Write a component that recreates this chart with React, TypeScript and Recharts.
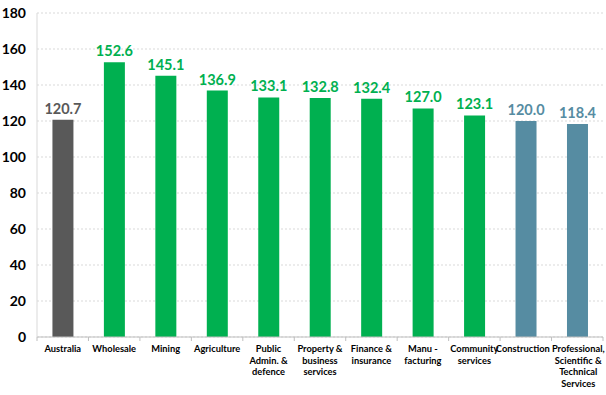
import { BarChart, Bar, XAxis, YAxis, CartesianGrid, LabelList, Cell } from 'recharts';

const categories = [
  'Australia',
  'Wholesale',
  'Mining',
  'Agriculture',
  'Public\nAdmin. &\ndefence',
  'Property &\nbusiness\nservices',
  'Finance &\ninsurance',
  'Manu -\nfacturing',
  'Community\nservices',
  'Construction',
  'Professional,\nScientific &\nTechnical\nServices',
];
const values = [120.7, 152.6, 145.1, 136.9, 133.1, 132.8, 132.4, 127.0, 123.1, 120.0, 118.4];
const groups = ['total', 'up', 'up', 'up', 'up', 'up', 'up', 'up', 'up', 'down', 'down'];
const yTicks = [0, 20, 40, 60, 80, 100, 120, 140, 160, 180];

const colors: Record<string, string> = {
  total: '#595959',
  up: '#00B050',
  down: '#568CA2',
};

const data = categories.map((name, i) => ({ name, value: values[i], group: groups[i] }));

const W = 606;
const H = 395;
const M = { top: 13, right: 3, left: 0, bottom: 0 };
const Y_W = 37;
const X_H = 58;
const band = (W - M.left - M.right - Y_W) / categories.length;
const font = 'Lato, "Open Sans", sans-serif';

function XTick(props: any) {
  const { x, y, payload, index } = props;
  const lines = String(payload.value).split('\n');
  const last = index === categories.length - 1;
  const tx = last ? x + 1 : index === categories.length - 2 ? x - 3 : x;
  return (
    <g>
      <line x1={x - band / 2} x2={x - band / 2} y1={y - 8} y2={y - 4} stroke="#bfbfbf" />
      {last && <line x1={x + band / 2} x2={x + band / 2} y1={y - 8} y2={y - 4} stroke="#bfbfbf" />}
      <text x={tx} y={y + 7} textAnchor="middle" fontFamily={font} fontWeight={700} fontSize={9.3} fill="#000">
        {lines.map((l, i) => (
          <tspan key={i} x={tx} dy={i === 0 ? 0 : 11.7}>
            {l}
          </tspan>
        ))}
      </text>
    </g>
  );
}

function YTick(props: any) {
  const { y, payload } = props;
  return (
    <text x={Y_W - 11} y={y + 5} textAnchor="end" fontFamily={font} fontWeight={700} fontSize={14} fill="#000">
      {payload.value}
    </text>
  );
}

function ValueLabel(props: any) {
  const { x, y, width, value, index } = props;
  return (
    <text
      x={x + width / 2}
      y={y - 6}
      textAnchor="middle"
      fontFamily={font}
      fontWeight={700}
      fontSize={14.5}
      fill={colors[groups[index]]}
    >
      {Number(value).toFixed(1)}
    </text>
  );
}

export default function App() {
  return (
    <div style={{ position: 'absolute', left: 0, top: 0, width: W, height: H, background: '#fff' }}>
      <BarChart width={W} height={H} data={data} margin={M} barCategoryGap="30%">
        <CartesianGrid vertical={false} stroke="#d9d9d9" strokeDasharray="2 2" />
        <XAxis
          dataKey="name"
          interval={0}
          height={X_H}
          tickLine={false}
          axisLine={{ stroke: '#bfbfbf' }}
          tick={<XTick />}
        />
        <YAxis
          width={Y_W}
          domain={[0, 180]}
          ticks={yTicks}
          tickLine={false}
          axisLine={{ stroke: '#d9d9d9' }}
          tick={<YTick />}
        />
        <Bar dataKey="value" isAnimationActive={false}>
          {data.map((d, i) => (
            <Cell key={i} fill={colors[d.group]} />
          ))}
          <LabelList dataKey="value" content={<ValueLabel />} />
        </Bar>
      </BarChart>
    </div>
  );
}
